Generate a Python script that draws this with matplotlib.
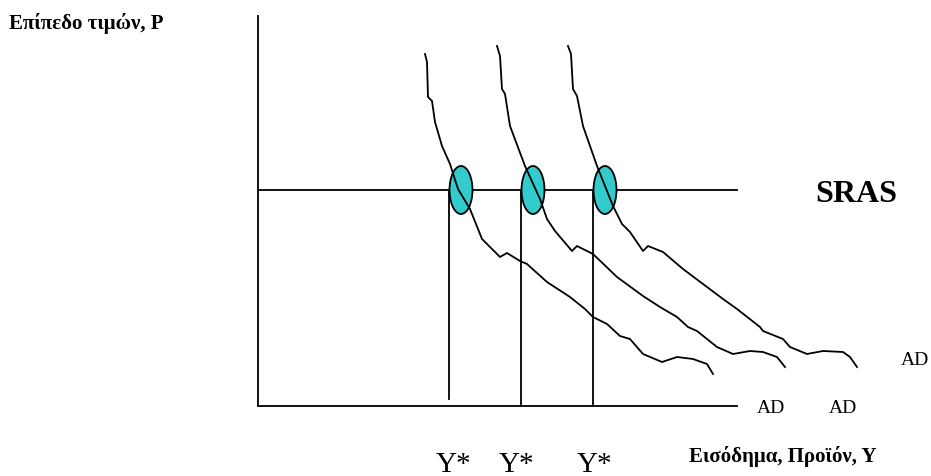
import matplotlib
matplotlib.use("Agg")
import matplotlib.pyplot as plt
from matplotlib.patches import Ellipse

plt.rcParams['font.family'] = ['Liberation Serif', 'DejaVu Serif']

# diagram in pixel coordinates (x right, y down)
ad1_x = [425, 427, 428, 432, 435, 442, 450, 458, 470, 476, 482, 500, 507, 520, 527, 547, 570, 585,
         593, 607, 620, 630, 643, 662, 677, 693, 707, 713]
ad1_y = [55, 63, 98, 102, 123, 147, 165, 190, 210, 225, 240, 258, 254, 262, 265, 283, 298, 310,
         318, 325, 337, 340, 355, 363, 358, 360, 365, 375]
ad2_x = [497, 500, 502, 505, 510, 525, 540, 547, 555, 572, 577, 593, 617, 643, 660, 677, 688, 697,
         717, 733, 750, 763, 777, 785]
ad2_y = [47, 57, 90, 95, 127, 167, 200, 220, 232, 252, 247, 255, 278, 297, 308, 318, 328, 332,
         348, 355, 352, 353, 358, 368]
ad3_x = [568, 571, 573, 577, 583, 597, 613, 622, 630, 643, 648, 663, 683, 723, 737, 760, 763, 783,
         790, 807, 823, 843, 850, 857]
ad3_y = [47, 55, 90, 97, 127, 167, 207, 225, 233, 252, 247, 253, 270, 300, 310, 328, 332, 340,
         348, 355, 352, 353, 358, 368]

y_star = [449, 521, 593]
eq_x = [461, 533, 605]
sras_y = 191
origin = (258, 407)
x_end = 737
y_top = 17

fig = plt.figure(figsize=(9.31, 4.77), dpi=100)
ax = fig.add_axes([0, 0, 1, 1])
ax.set_xlim(0, 931)
ax.set_ylim(477, 0)
ax.axis('off')

lw = 1.3
# axes
ax.plot([origin[0], origin[0]], [y_top, origin[1]], color='black', lw=lw)
ax.plot([origin[0], x_end], [origin[1], origin[1]], color='black', lw=lw)
# SRAS
ax.plot([origin[0], x_end], [sras_y, sras_y], color='black', lw=lw)
# verticals at Y*
bottoms = [400, origin[1], origin[1]]
for x, b in zip(y_star, bottoms):
    ax.plot([x, x], [sras_y, b], color='black', lw=lw)

for cx, cy in [(ad1_x, ad1_y), (ad2_x, ad2_y), (ad3_x, ad3_y)]:
    ax.plot(cx, cy, color='black', lw=lw, zorder=4)

for x in eq_x:
    ax.add_patch(Ellipse((x, sras_y), 23, 48, facecolor='#33CCCC', edgecolor='black', lw=lw, zorder=3))

ax.text(9, 23, 'Επίπεδο τιμών, P', fontsize=15, fontweight='bold', va='center', ha='left')
ax.text(815, 195, 'SRAS', fontsize=23, fontweight='bold', va='center', ha='left')
ax.text(757, 409, 'AD', fontsize=14, va='center', ha='left')
ax.text(829, 409, 'AD', fontsize=14, va='center', ha='left')
ax.text(901, 361, 'AD', fontsize=14, va='center', ha='left')
for x in [436, 499, 577]:
    ax.text(x, 465, 'Y*', fontsize=21, va='center', ha='left')
ax.text(689, 457, 'Εισόδημα, Προϊόν, Y', fontsize=15, fontweight='bold', va='center', ha='left')

fig.savefig('out.png', dpi=100)
